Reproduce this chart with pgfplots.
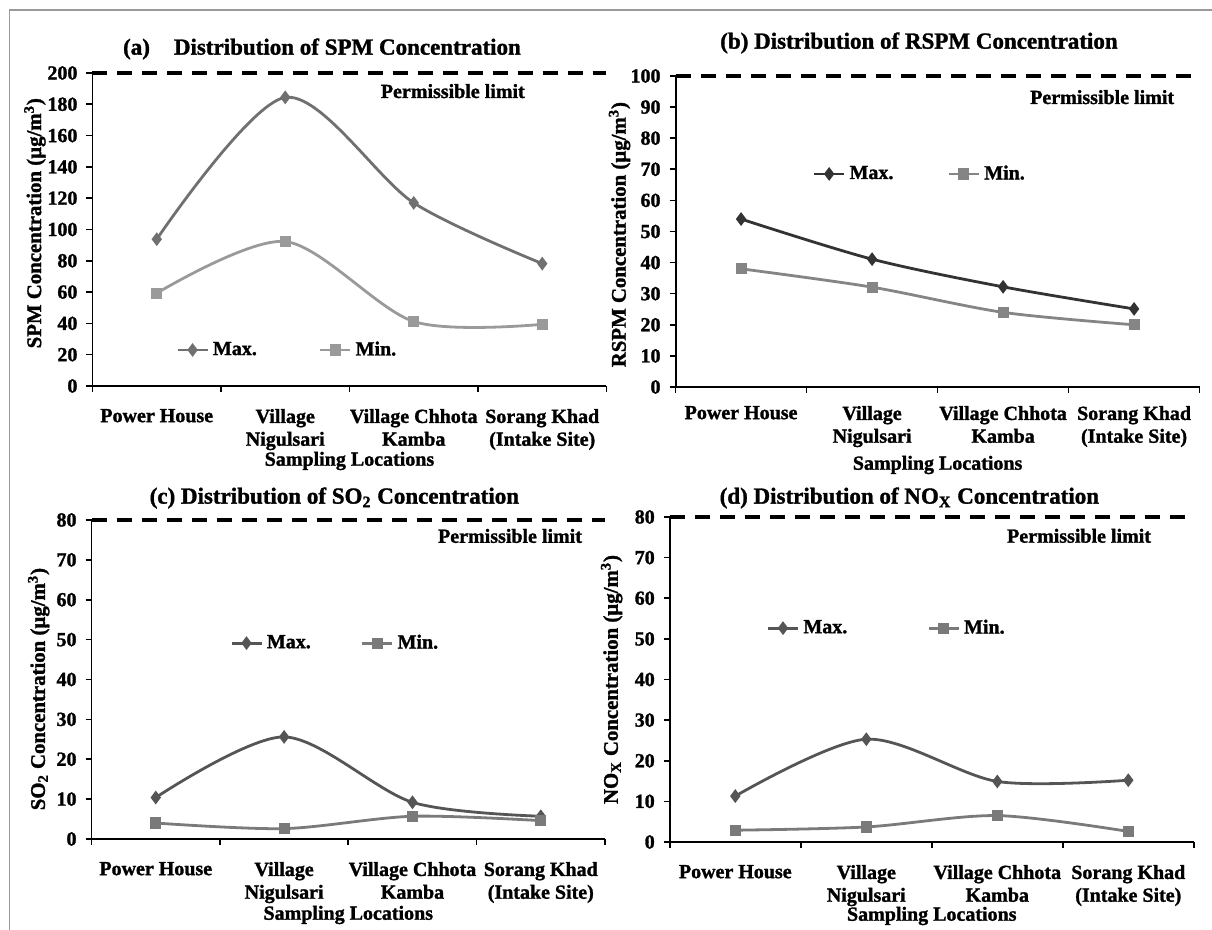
\documentclass[border=0pt]{standalone}
\usepackage{fontspec}
\setmainfont{Liberation Serif}[BoldFeatures={FakeBold=1.4}]
\usepackage{pgfplots}
\pgfplotsset{compat=1.18}

\definecolor{maxA}{HTML}{707070}
\definecolor{minA}{HTML}{9A9A9A}
\definecolor{maxB}{HTML}{333333}
\definecolor{minB}{HTML}{858585}
\definecolor{maxC}{HTML}{555555}
\definecolor{minC}{HTML}{7A7A7A}
\definecolor{frame}{HTML}{9A9A9A}

\newcommand{\tickfont}{\fontsize{10}{11.4}\selectfont\bfseries}
\newcommand{\titlefont}{\fontsize{11.5}{13}\selectfont\bfseries}

\pgfplotsset{
  airq/.style={
    scale only axis, clip=false,
    axis x line=bottom, axis y line=left,
    axis line style={-, line width=0.9pt, black},
    xmin=0, xmax=4, ymin=0,
    xtick={0.5,1.5,2.5,3.5},
    xticklabels={Power House, {Village\\Nigulsari}, {Village Chhota\\Kamba}, {Sorang Khad\\(Intake Site)}},
    major x tick style={draw=none},
    minor xtick={0,1,2,3,4},
    tick align=outside,
    major tick length=3pt, minor tick length=3pt,
    tick style={black, line width=0.8pt},
    xticklabel style={align=center, font=\tickfont, yshift=-5pt},
    yticklabel style={font=\tickfont, xshift=-1pt},
    /pgf/number format/assume math mode=true,
    xlabel={Sampling Locations},
    xlabel style={at={(axis description cs:0.5,0)}, anchor=center, font=\tickfont},
    ylabel style={anchor=center, font=\fontsize{10.4}{12}\selectfont\bfseries},
    legend columns=2,
    legend cell align=left,
    legend style={draw=none, fill=none, anchor=west, font=\tickfont, inner sep=0pt},
    legend image code/.code={\draw[mark repeat=2,mark phase=2,#1] plot coordinates {(0pt,0pt)(7.5pt,0pt)(15pt,0pt)};},
  },
  maxline/.style={line width=1.4pt, smooth, mark=diamond*, mark size=2.3pt, mark options={solid}},
  minline/.style={line width=1.4pt, smooth, mark=square*, mark size=2.1pt, mark options={solid}},
  limit/.style={black, line width=1.6pt, dash pattern=on 7.5pt off 5pt, forget plot},
}

\begin{document}
\begin{tikzpicture}
\useasboundingbox (0,0) rectangle (606pt,465pt);
\draw[frame, line width=0.7pt] (4.8pt,0pt) -- (4.8pt,460pt) -- (606pt,460pt);

% (a) SPM
\begin{axis}[airq, at={(46.25pt,272pt)}, anchor=south west,
  width=257pt, height=156.5pt,
  ymax=200, ytick={0,20,...,200},
  ylabel={SPM Concentration (µg/m\textsuperscript{3})},
  ylabel style={at={(axis description cs:-0.112,0.52)}},
  xlabel style={yshift=-37.5pt},
  legend style={at={(0.162,0.115)}, /tikz/every even column/.append style={column sep=29pt}}]
\addplot[limit] coordinates {(0,200) (4,200)};
\addplot[maxline, color=maxA] coordinates {(0.5,93.8) (1.5,184.4) (2.5,117) (3.5,78.2)};
\addplot[minline, color=minA] coordinates {(0.5,59.3) (1.5,92.3) (2.5,41.2) (3.5,39.4)};
\legend{Max., Min.}
\node[font=\tickfont] at (rel axis cs:0.701,0.942) {Permissible limit};
\end{axis}

% (b) RSPM
\begin{axis}[airq, at={(337.8pt,271.5pt)}, anchor=south west,
  width=262pt, height=155.5pt,
  ymax=100, ytick={0,10,...,100},
  ylabel={RSPM Concentration (µg/m\textsuperscript{3})},
  ylabel style={at={(axis description cs:-0.107,0.49)}},
  xticklabel style={yshift=2pt},
  xlabel style={yshift=-39pt},
  legend style={at={(0.261,0.685)}, /tikz/every even column/.append style={column sep=25pt}}]
\addplot[limit] coordinates {(0,100) (4,100)};
\addplot[maxline, color=maxB] coordinates {(0.5,54) (1.5,41.1) (2.5,32.2) (3.5,25.1)};
\addplot[minline, color=minB] coordinates {(0.5,38) (1.5,32.1) (2.5,24) (3.5,20)};
\legend{Max., Min.}
\node[font=\tickfont] at (rel axis cs:0.814,0.932) {Permissible limit};
\end{axis}

% (c) SO2
\begin{axis}[airq, at={(45.8pt,45.5pt)}, anchor=south west,
  width=256.7pt, height=159.5pt,
  ymax=80, ytick={0,10,...,80},
  ylabel={SO\textsubscript{2} Concentration (µg/m\textsuperscript{3})},
  ylabel style={at={(axis description cs:-0.103,0.47)}},
  xlabel style={yshift=-38pt},
  legend style={at={(0.269,0.614)}, /tikz/every even column/.append style={column sep=23pt}}]
\addplot[limit] coordinates {(0,80) (4,80)};
\addplot[maxline, color=maxC] coordinates {(0.5,10.4) (1.5,25.6) (2.5,9.2) (3.5,5.7)};
\addplot[minline, color=minC] coordinates {(0.5,4.0) (1.5,2.6) (2.5,5.7) (3.5,4.6)};
\legend{Max., Min.}
\node[font=\tickfont] at (rel axis cs:0.815,0.95) {Permissible limit};
\end{axis}

% (d) NOx
\begin{axis}[airq, at={(334.9pt,44pt)}, anchor=south west,
  width=262pt, height=162.5pt,
  ymax=80, ytick={0,10,...,80},
  ylabel={NO\textsubscript{X} Concentration (µg/m\textsuperscript{3})},
  ylabel style={at={(axis description cs:-0.111,0.5)}},
  xlabel style={yshift=-37pt},
  legend style={at={(0.184,0.658)}, /tikz/every even column/.append style={column sep=38pt}}]
\addplot[limit] coordinates {(0,80) (4,80)};
\addplot[maxline, color=maxC] coordinates {(0.5,11.3) (1.5,25.3) (2.5,14.9) (3.5,15.2)};
\addplot[minline, color=minC] coordinates {(0.5,2.9) (1.5,3.7) (2.5,6.5) (3.5,2.6)};
\legend{Max., Min.}
\node[font=\tickfont] at (rel axis cs:0.781,0.942) {Permissible limit};
\end{axis}

\node[font=\titlefont] at (161pt,440.5pt) {(a)\hspace{12pt}Distribution of SPM Concentration};
\node[font=\titlefont] at (459.5pt,443.5pt) {(b) Distribution of RSPM Concentration};
\node[font=\titlefont] at (167.2pt,216pt) {(c) Distribution of SO\textsubscript{2} Concentration};
\node[font=\titlefont] at (454.7pt,216pt) {(d) Distribution of NO\textsubscript{X} Concentration};
\end{tikzpicture}
\end{document}
